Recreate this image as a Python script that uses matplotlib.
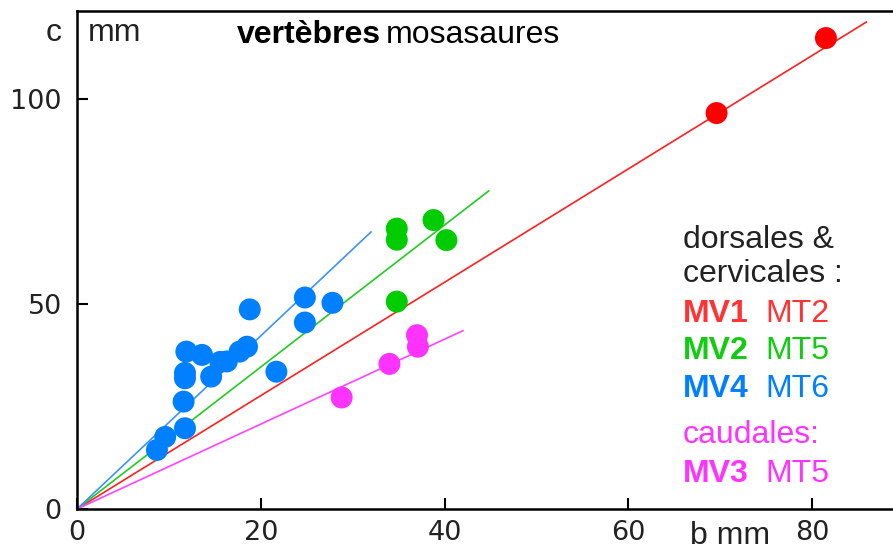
import matplotlib.pyplot as plt

# data (b mm, c mm)
mv1_b = [69.6, 81.5]
mv1_c = [96.6, 114.9]

mv2_b = [34.8, 34.8, 38.8, 40.2, 34.8]
mv2_c = [68.4, 65.7, 70.5, 65.6, 50.6]

mv4_b = [8.7, 9.6, 11.75, 11.6, 11.75, 11.75, 11.9, 13.6, 15.6, 14.6,
         17.7, 18.5, 21.7, 18.8, 24.8, 24.8, 27.8, 16.3]
mv4_c = [14.4, 17.6, 19.7, 26.2, 31.9, 33.2, 38.4, 37.6, 35.9, 32.3,
         38.4, 39.6, 33.5, 48.7, 51.6, 45.5, 50.3, 36.0]

mv3_b = [37.0, 37.1, 34.0, 28.8]
mv3_c = [42.4, 39.6, 35.4, 27.2]

# fitted lines through the origin: end points
line_end_b = [85.9, 44.8, 32.0, 42.0]
line_end_c = [118.8, 77.6, 67.6, 43.5]

xticks = [0, 20, 40, 60, 80]
yticks = [0, 50, 100]

red = '#ff0000'
green = '#00cc00'
blue = '#0080ff'
pink = '#ff33ff'

fig = plt.figure(figsize=(8.93, 5.5), dpi=100)
ax = fig.add_axes([77 / 893, 41 / 550, 1 - 77 / 893, 498 / 550])

line_cols = ['#ff2020', '#22cc22', '#3b93ff', '#ff44ff']
for bx, cy, col in zip(line_end_b, line_end_c, line_cols):
    ax.plot([0, bx], [0, cy], color=col, lw=1.2, zorder=2)

ms = 250
ax.scatter(mv1_b, mv1_c, s=ms, color=red, zorder=3, edgecolor='none')
ax.scatter(mv2_b, mv2_c, s=ms, color=green, zorder=3, edgecolor='none')
ax.scatter(mv4_b, mv4_c, s=ms, color=blue, zorder=3, edgecolor='none')
ax.scatter(mv3_b, mv3_c, s=ms, color=pink, zorder=3, edgecolor='none')

ax.set_xlim(0, 88.8)
ax.set_ylim(0, 121.5)
ax.set_xticks(xticks)
ax.set_yticks(yticks)
ax.tick_params(axis='both', direction='in', length=8, width=1.5,
               labelsize=19.5, labelcolor='#222222')
ax.tick_params(axis='x', pad=8)
ax.tick_params(axis='y', pad=11)
for lab in ax.get_xticklabels() + ax.get_yticklabels():
    lab.set_family('DejaVu Sans')
for side in ['left', 'bottom', 'top']:
    ax.spines[side].set_linewidth(1.8)
ax.spines['right'].set_visible(False)


def px(x, y):
    return x / 893, 1 - y / 550


fs = 23
fam = 'Liberation Sans'
fig.text(*px(62, 41), 'c', fontsize=fs, family=fam, ha='right', va='baseline', color='#222222')
fig.text(*px(88, 41), 'mm', fontsize=fs, family=fam, ha='left', va='baseline', color='#222222')
fig.text(*px(237, 43), 'vertèbres', fontsize=fs, family=fam, weight='bold', ha='left', va='baseline')
fig.text(*px(386, 43), 'mosasaures', fontsize=fs, family=fam, ha='left', va='baseline')
fig.text(*px(690, 544), 'b mm', fontsize=fs, family=fam, ha='left', va='baseline', color='#222222')

lx, lx2 = 683, 765
fig.text(*px(lx, 248), 'dorsales &', fontsize=fs, family=fam, va='baseline', color='#222222')
fig.text(*px(lx, 282), 'cervicales :', fontsize=fs, family=fam, va='baseline', color='#222222')
rows = [(322, 'MV1', 'MT2', '#ff3333'),
        (359, 'MV2', 'MT5', '#11cc11'),
        (397, 'MV4', 'MT6', blue)]
for y, a, b, col in rows:
    fig.text(*px(lx, y), a, fontsize=fs, family=fam, weight='bold', va='baseline', color=col)
    fig.text(*px(lx2, y), b, fontsize=fs, family=fam, va='baseline', color=col)
fig.text(*px(lx, 443), 'caudales:', fontsize=fs, family=fam, va='baseline', color=pink)
fig.text(*px(lx, 482), 'MV3', fontsize=fs, family=fam, weight='bold', va='baseline', color=pink)
fig.text(*px(lx2, 482), 'MT5', fontsize=fs, family=fam, va='baseline', color=pink)

fig.savefig('out.png', dpi=100)
